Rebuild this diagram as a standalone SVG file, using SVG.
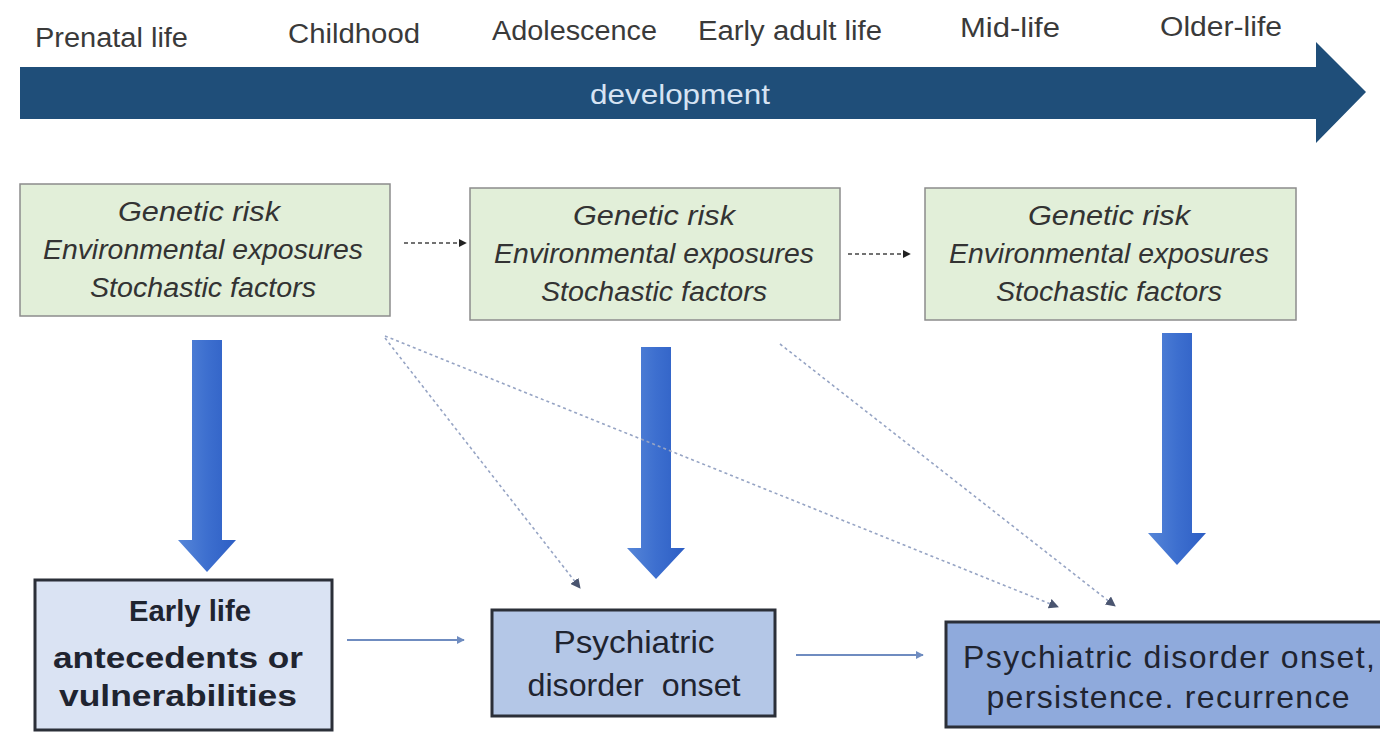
<svg xmlns="http://www.w3.org/2000/svg" width="1380" height="739" viewBox="0 0 1380 739">
  <style>
    .stage { font-family: "Liberation Sans", Arial, sans-serif; font-size: 27px; fill: #3a3a3a; }
    .band-label { font-family: "Liberation Sans", Arial, sans-serif; font-size: 28px; fill: #d6e3f3; }
    .factor { fill: #e2efd9; stroke: #8c8c8c; stroke-width: 1.5; }
    .factor-text { font-family: "Liberation Sans", Arial, sans-serif; font-style: italic; font-size: 27px; fill: #333; text-anchor: middle; }
    .outcome { stroke: #2b2f38; stroke-width: 3; }
    .outcome-text { font-family: "Liberation Sans", Arial, sans-serif; fill: #1f2430; text-anchor: middle; }
    .bold-text { font-weight: bold; font-size: 30px; }
    .plain-text { font-size: 32px; }
    .dash { fill: none; stroke: #444; stroke-width: 1.3; stroke-dasharray: 4 3; }
    .dot { fill: none; stroke: #96a4c4; stroke-width: 1.6; stroke-dasharray: 3 3; }
    .solid { fill: none; stroke: #6f8cc0; stroke-width: 2; }
    .block { fill: url(#blockGrad); }
  </style>
  <defs>
    <linearGradient id="blockGrad" x1="0" y1="0" x2="1" y2="0">
      <stop offset="0" stop-color="#5686d8"/>
      <stop offset="0.5" stop-color="#3d6fcf"/>
      <stop offset="1" stop-color="#2d5ec4"/>
    </linearGradient>
    <marker id="headDark" viewBox="0 0 10 10" refX="9" refY="5" markerWidth="8" markerHeight="8" markerUnits="userSpaceOnUse" orient="auto">
      <path d="M0,0 L10,5 L0,10 z" fill="#222"/>
    </marker>
    <marker id="headDot" viewBox="0 0 10 10" refX="9" refY="5" markerWidth="10" markerHeight="10" markerUnits="userSpaceOnUse" orient="auto">
      <path d="M0,0 L10,5 L0,10 z" fill="#4a5570"/>
    </marker>
    <marker id="headBlue" viewBox="0 0 10 10" refX="9" refY="5" markerWidth="8" markerHeight="8" markerUnits="userSpaceOnUse" orient="auto">
      <path d="M0,0 L10,5 L0,10 z" fill="#6f8cc0"/>
    </marker>
  </defs>

  <rect width="1380" height="739" fill="#ffffff"/>

  <!-- life stages along the timeline -->
  <g id="stages" class="stage">
    <text x="35" y="47" textLength="153" lengthAdjust="spacingAndGlyphs">Prenatal life</text>
    <text x="288" y="43" textLength="132" lengthAdjust="spacingAndGlyphs">Childhood</text>
    <text x="492" y="40" textLength="165" lengthAdjust="spacingAndGlyphs">Adolescence</text>
    <text x="698" y="40" textLength="184" lengthAdjust="spacingAndGlyphs">Early adult life</text>
    <text x="960" y="37" textLength="100" lengthAdjust="spacingAndGlyphs">Mid-life</text>
    <text x="1160" y="36" textLength="122" lengthAdjust="spacingAndGlyphs">Older-life</text>
  </g>

  <!-- development timeline arrow -->
  <g id="development">
    <path d="M20,67 L1316,67 L1316,42 L1366,92 L1316,143 L1316,119 L20,119 z" fill="#1f4e79"/>
    <text class="band-label" x="590" y="104" textLength="180" lengthAdjust="spacingAndGlyphs">development</text>
  </g>

  <!-- risk factor boxes -->
  <g id="factors1">
    <rect class="factor" x="20" y="184" width="370" height="132"/>
    <text class="factor-text" x="199" y="221" textLength="162" lengthAdjust="spacingAndGlyphs">Genetic risk</text>
    <text class="factor-text" x="203" y="259" textLength="320" lengthAdjust="spacingAndGlyphs">Environmental exposures</text>
    <text class="factor-text" x="203" y="297" textLength="226" lengthAdjust="spacingAndGlyphs">Stochastic factors</text>
  </g>
  <g id="factors2">
    <rect class="factor" x="470" y="188" width="370" height="132"/>
    <text class="factor-text" x="654" y="225" textLength="162" lengthAdjust="spacingAndGlyphs">Genetic risk</text>
    <text class="factor-text" x="654" y="263" textLength="320" lengthAdjust="spacingAndGlyphs">Environmental exposures</text>
    <text class="factor-text" x="654" y="301" textLength="226" lengthAdjust="spacingAndGlyphs">Stochastic factors</text>
  </g>
  <g id="factors3">
    <rect class="factor" x="925" y="188" width="371" height="132"/>
    <text class="factor-text" x="1109" y="225" textLength="162" lengthAdjust="spacingAndGlyphs">Genetic risk</text>
    <text class="factor-text" x="1109" y="263" textLength="320" lengthAdjust="spacingAndGlyphs">Environmental exposures</text>
    <text class="factor-text" x="1109" y="301" textLength="226" lengthAdjust="spacingAndGlyphs">Stochastic factors</text>
  </g>

  <!-- outcome boxes -->
  <g id="antecedents">
    <rect class="outcome" x="35" y="580" width="297" height="150" fill="#dae3f3"/>
    <text class="outcome-text bold-text" x="190" y="621" textLength="122" lengthAdjust="spacingAndGlyphs">Early life</text>
    <text class="outcome-text bold-text" x="178" y="668" textLength="250" lengthAdjust="spacingAndGlyphs">antecedents or</text>
    <text class="outcome-text bold-text" x="178" y="706" textLength="238" lengthAdjust="spacingAndGlyphs">vulnerabilities</text>
  </g>
  <g id="onset">
    <rect class="outcome" x="492" y="610" width="283" height="106" fill="#b4c7e7"/>
    <text class="outcome-text plain-text" x="634" y="653" textLength="161" lengthAdjust="spacingAndGlyphs">Psychiatric</text>
    <text class="outcome-text plain-text" x="634" y="696" textLength="213" lengthAdjust="spacingAndGlyphs">disorder&#160; onset</text>
  </g>
  <g id="course">
    <rect class="outcome" x="946" y="622" width="440" height="105" fill="#8faadc"/>
    <text class="outcome-text plain-text" x="1169" y="668" textLength="412" lengthAdjust="spacing">Psychiatric disorder onset,</text>
    <text class="outcome-text plain-text" x="1168" y="708" textLength="363" lengthAdjust="spacing">persistence. recurrence</text>
  </g>

  <!-- connectors -->
  <g id="connectors">
    <!-- large influence arrows -->
    <path class="block" d="M192,340 L222,340 L222,540 L236,540 L207,572 L178,540 L192,540 z"/>
    <path class="block" d="M641,347 L671,347 L671,548 L685,548 L656,579 L627,548 L641,548 z"/>
    <path class="block" d="M1162,333 L1192,333 L1192,533 L1206,533 L1177,565 L1148,533 L1162,533 z"/>

    <!-- carry-over between periods -->
    <line class="dash" x1="404" y1="243" x2="466" y2="243" marker-end="url(#headDark)"/>
    <line class="dash" x1="848" y1="254" x2="910" y2="254" marker-end="url(#headDark)"/>

    <!-- cross-period influences -->
    <line class="dot" x1="385" y1="338" x2="580" y2="588" marker-end="url(#headDot)"/>
    <line class="dot" x1="385" y1="336" x2="1058" y2="607" marker-end="url(#headDot)"/>
    <line class="dot" x1="780" y1="344" x2="1115" y2="606" marker-end="url(#headDot)"/>

    <!-- progression -->
    <line class="solid" x1="347" y1="640" x2="464" y2="640" marker-end="url(#headBlue)"/>
    <line class="solid" x1="796" y1="655" x2="923" y2="655" marker-end="url(#headBlue)"/>
  </g>
</svg>
